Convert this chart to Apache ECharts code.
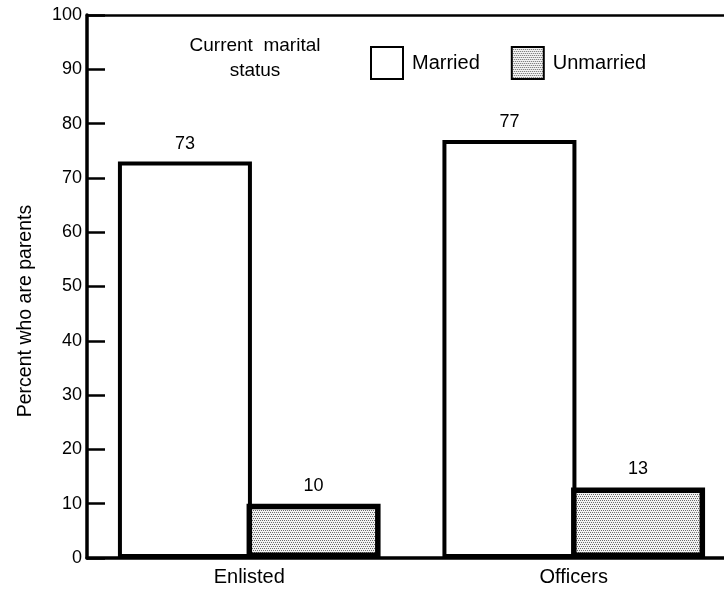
<!DOCTYPE html>
<html>
<head>
<meta charset="utf-8">
<script src="https://cdn.jsdelivr.net/npm/echarts@6/dist/echarts.min.js"></script>
<style>
html,body{margin:0;padding:0;background:#fff;overflow:hidden;}
#chart{width:736px;height:592px;}
</style>
</head>
<body>
<div id="chart"></div>
<script>
const categories = ['Enlisted', 'Officers'];
const seriesNames = ['Married', 'Unmarried'];
const marriedValues = [73, 77];
const unmarriedValues = [10, 13];
const yAxisTitle = 'Percent who are parents';
const legendTitle = 'Current  marital\nstatus';

// stipple pattern
const pc = document.createElement('canvas');
pc.width = 4; pc.height = 4;
const pctx = pc.getContext('2d');
pctx.fillStyle = '#f2f2f2';
pctx.fillRect(0, 0, 4, 4);
pctx.fillStyle = '#6a6a6a';
[[0,0],[2,0],[1,2],[3,2]].forEach(p => pctx.fillRect(p[0], p[1], 1, 1));

const FONT = '"Liberation Sans", Arial, sans-serif';
const chart = echarts.init(document.getElementById('chart'));
chart.setOption({
  animation: false,
  backgroundColor: '#fff',
  textStyle: { fontFamily: FONT, color: '#000' },
  grid: { left: 87, top: 15, right: 0, bottom: 34, containLabel: false },
  legend: {
    data: seriesNames,
    left: 365, top: 41,
    icon: 'rect',
    itemWidth: 32, itemHeight: 32, itemGap: 31,
    textStyle: { fontFamily: FONT, fontSize: 20, color: '#000', padding: [0, 0, 0, 4] }
  },
  graphic: [
    { type: 'text', x: 255, y: 58, style: { text: legendTitle, textAlign: 'center', textVerticalAlign: 'middle', fontFamily: FONT, fontSize: 19, lineHeight: 25, fill: '#000' } },
    { type: 'text', x: 26, y: 311, rotation: Math.PI / 2, style: { text: yAxisTitle, textAlign: 'center', textVerticalAlign: 'middle', fontFamily: FONT, fontSize: 19.5, fill: '#000' } }
  ],
  xAxis: [
    {
      type: 'category', data: categories,
      axisLine: { lineStyle: { color: '#000', width: 3.5 } },
      axisTick: { show: false },
      axisLabel: { fontFamily: FONT, fontSize: 20, color: '#000', margin: 9 }
    },
    {
      type: 'category', data: categories, position: 'top',
      axisLine: { lineStyle: { color: '#000', width: 2.5 } },
      axisTick: { show: false }, axisLabel: { show: false }
    }
  ],
  yAxis: {
    type: 'value', min: 0, max: 100, interval: 10,
    axisLine: { show: true, lineStyle: { color: '#000', width: 3.5 } },
    axisTick: { show: true, inside: true, length: 18, lineStyle: { color: '#000', width: 2.5 } },
    axisLabel: { fontFamily: FONT, fontSize: 18, color: '#000', margin: 5 },
    splitLine: { show: false }
  },
  series: [
    {
      name: seriesNames[0], type: 'bar', data: marriedValues,
      barWidth: 134, barGap: '-4%',
      itemStyle: { color: '#fff', borderColor: '#000', borderWidth: 4 },
      label: { show: true, position: 'top', distance: 9, fontFamily: FONT, fontSize: 18, color: '#000' }
    },
    {
      name: seriesNames[1], type: 'bar', data: unmarriedValues,
      barWidth: 134, barGap: '-4%',
      itemStyle: { color: { image: pc, repeat: 'repeat' }, borderColor: '#000', borderWidth: 5.5 },
      label: { show: true, position: 'top', distance: 9, fontFamily: FONT, fontSize: 18, color: '#000' }
    }
  ]
});
</script>
</body>
</html>
